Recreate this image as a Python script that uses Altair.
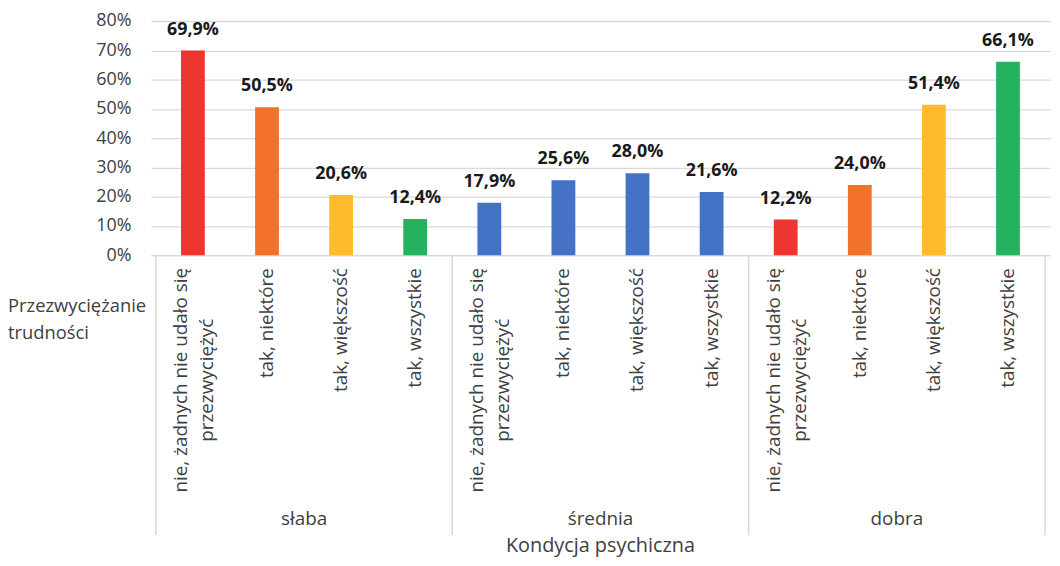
import altair as alt
import pandas as pd

groups = ["słaba", "średnia", "dobra"]
categories = ["nie, żadnych nie udało się przezwyciężyć", "tak, niektóre", "tak, większość", "tak, wszystkie"]
category_lines = [["nie, żadnych nie udało się", "przezwyciężyć"], ["tak, niektóre"], ["tak, większość"], ["tak, wszystkie"]]
values_slaba = [69.9, 50.5, 20.6, 12.4]
values_srednia = [17.9, 25.6, 28.0, 21.6]
values_dobra = [12.2, 24.0, 51.4, 66.1]
y_ticks = [0, 0.1, 0.2, 0.3, 0.4, 0.5, 0.6, 0.7, 0.8]
x_title = "Kondycja psychiczna"
field_title = ["Przezwyciężanie", "trudności"]

rows = []
for gi, (g, vals) in enumerate(zip(groups, [values_slaba, values_srednia, values_dobra])):
    for ci, (c, v) in enumerate(zip(categories, vals)):
        rows.append(dict(group=g, gi=gi, ci=ci, cat=c, lines=category_lines[ci], value=v / 100))
df = pd.DataFrame(rows)

n_cat = len(categories)
W, H = 906, 236
FONT = "Open Sans"
TXT = "#404040"
GRID = "#d9d9d9"

xscale = alt.Scale(domain=[0, n_cat * len(groups)], nice=False, zero=False)
yscale = alt.Scale(domain=[0, 0.8], nice=False)

x_axis = alt.Axis(title=None, labels=False, ticks=False, grid=False,
                  domain=True, domainColor=GRID, domainWidth=1.3)
y_axis = alt.Axis(title=None, format=".0%", values=y_ticks, grid=True,
                  gridColor=GRID, gridWidth=1.3, domain=False, ticks=False,
                  tickSize=0, labelPadding=20, labelFont=FONT, labelFontSize=18,
                  labelColor=TXT, labelOverlap=False, labelBound=False)

base = alt.Chart(df).transform_calculate(
    pos=f"datum.gi*{n_cat} + datum.ci + 0.5",
    ckey="datum.group == 'średnia' ? 'średnia' : datum.cat",
    label="replace(format(datum.value, '.1%'), '.', ',')",
)

bars = base.mark_bar(orient="vertical", size=24).encode(
    x=alt.X("pos:Q", scale=xscale, axis=x_axis),
    y=alt.Y("value:Q", scale=yscale, axis=y_axis),
    color=alt.Color("ckey:N",
                    scale=alt.Scale(domain=categories + ["średnia"],
                                    range=["#EE3631", "#F2712B", "#FDBB2D", "#24B25F", "#4472C4"]),
                    legend=None),
)

value_labels = base.mark_text(font=FONT, fontSize=18, fontWeight="bold", baseline="alphabetic",
                              dy=-16, color="#1a1a1a").encode(
    x=alt.X("pos:Q", scale=xscale, axis=x_axis),
    y=alt.Y("value:Q", scale=yscale, axis=y_axis),
    text="label:N",
)

cat_single = base.transform_filter("datum.ci > 0").mark_text(
    font=FONT, fontSize=19, angle=270, align="right", baseline="middle", color=TXT).encode(
    x=alt.X("pos:Q", scale=xscale, axis=x_axis),
    y=alt.value(H + 13),
    text="cat:N",
)

cat_multi = base.transform_filter("datum.ci == 0").mark_text(
    font=FONT, fontSize=19, angle=270, align="center", baseline="middle", lineHeight=26,
    dy=-12, color=TXT).encode(
    x=alt.X("pos:Q", scale=xscale, axis=x_axis),
    y=alt.value(H + 13 + 113),
    text="lines:N",
)

bounds_df = pd.DataFrame({"b": [gi * n_cat for gi in range(len(groups) + 1)]})
separators = alt.Chart(bounds_df).mark_rule(color=GRID, strokeWidth=1.5).encode(
    x=alt.X("b:Q", scale=xscale, axis=x_axis),
    y=alt.value(H),
    y2=alt.value(H + 282),
)

groups_df = pd.DataFrame({"group": groups, "gi": list(range(len(groups)))})
group_labels = alt.Chart(groups_df).transform_calculate(
    center=f"datum.gi*{n_cat} + {n_cat / 2}"
).mark_text(font=FONT, fontSize=19, baseline="middle", color=TXT).encode(
    x=alt.X("center:Q", scale=xscale, axis=x_axis),
    y=alt.value(502),
    text="group:N",
)

title_text = alt.Chart(pd.DataFrame({"t": [x_title]})).mark_text(
    font=FONT, fontSize=20, baseline="bottom", color=TXT).encode(
    x=alt.value(W / 2), y=alt.value(H + 303), text="t:N")

field_text = alt.Chart(pd.DataFrame({"t": [field_title]})).mark_text(
    font=FONT, fontSize=18.5, align="left", baseline="alphabetic", lineHeight=27, color=TXT).encode(
    x=alt.value(-144), y=alt.value(293), text="t:N")

chart = alt.layer(
    bars, value_labels, cat_single, cat_multi, separators, group_labels, title_text, field_text
).properties(
    width=W, height=H,
    autosize=alt.AutoSizeParams(type="none"),
    padding={"left": 144, "top": 11, "right": 2, "bottom": 303},
).configure_view(stroke=None)

chart.save("out.html", embed_options={"renderer": "svg", "actions": False})
